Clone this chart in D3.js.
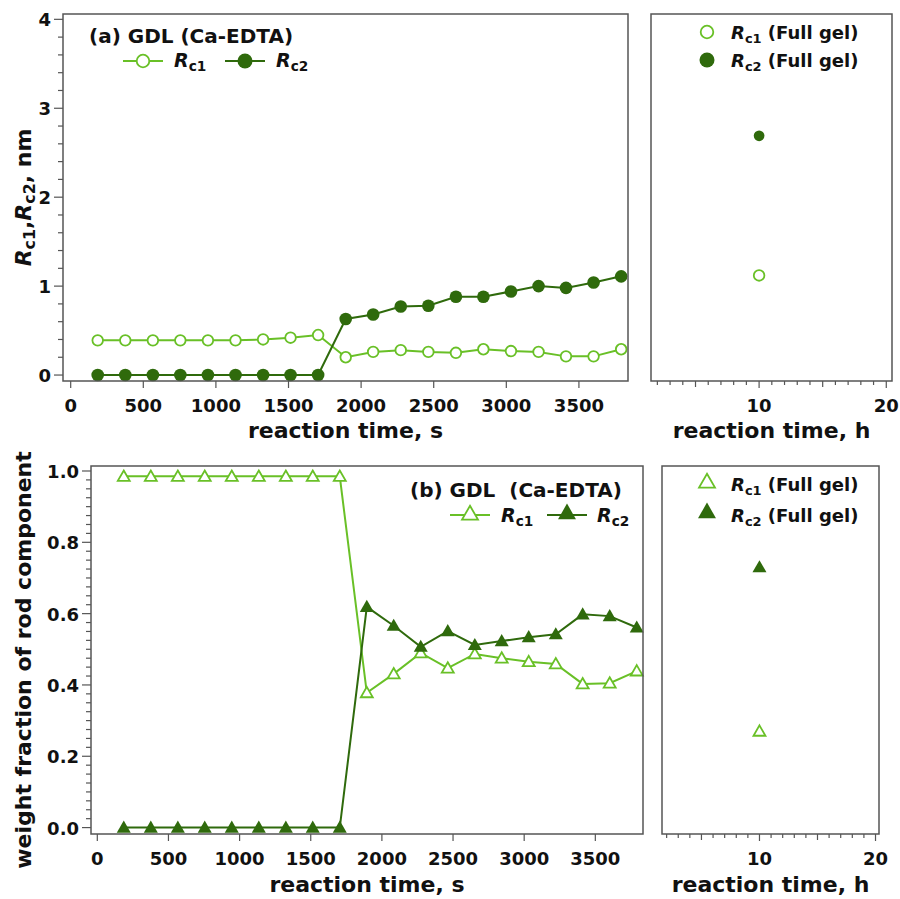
<!DOCTYPE html>
<html>
<head>
<meta charset="utf-8">
<script src="https://cdn.jsdelivr.net/npm/d3@7"></script>
<style>
  body { margin: 0; background: #fff; }
  svg text { font-family: "DejaVu Sans", sans-serif; font-weight: bold; fill: #111; }
</style>
</head>
<body>
<div id="chart"></div>
<script>
"use strict";

// reaction times (s) of the kinetic runs
const timeS = [186, 376, 566, 755, 945, 1135, 1325, 1514, 1704, 1894, 2083, 2273, 2463, 2653, 2842, 3032, 3222, 3411, 3601, 3791];

// (a) rod radii, nm
const rc1Radius = [0.39, 0.39, 0.39, 0.39, 0.39, 0.39, 0.40, 0.42, 0.45, 0.20, 0.26, 0.28, 0.26, 0.25, 0.29, 0.27, 0.26, 0.21, 0.21, 0.29];
const rc2Radius = [0, 0, 0, 0, 0, 0, 0, 0, 0, 0.63, 0.68, 0.77, 0.78, 0.88, 0.88, 0.94, 1.00, 0.98, 1.04, 1.11];

// (b) weight fraction of rod component
const rc1Fraction = [0.985, 0.985, 0.985, 0.985, 0.985, 0.985, 0.985, 0.985, 0.985, 0.378, 0.431, 0.490, 0.447, 0.487, 0.475, 0.465, 0.459, 0.403, 0.405, 0.439];
const rc2Fraction = [0, 0, 0, 0, 0, 0, 0, 0, 0, 0.619, 0.566, 0.507, 0.551, 0.512, 0.523, 0.534, 0.542, 0.598, 0.593, 0.561];

// full gel (h)
const fullGelTimeH = [10];
const fullGelRc1Radius = [1.12];
const fullGelRc2Radius = [2.69];
const fullGelRc1Fraction = [0.27];
const fullGelRc2Fraction = [0.73];

const xTicksS = [0, 500, 1000, 1500, 2000, 2500, 3000, 3500];
const yTicksRadius = [0, 1, 2, 3, 4];
const yTicksFraction = [0, 0.2, 0.4, 0.6, 0.8, 1.0];
const xTicksH = [10, 20];

const lightGreen = "#69c027";
const darkGreen = "#2f6a0c";
const frameColor = "#555";

const svg = d3.select("#chart").append("svg")
    .attr("width", 900)
    .attr("height", 899);

// panel boxes (pixel frames)
const panelA = {left: 63, right: 628, top: 14, bottom: 381};
const panelB = {left: 651, right: 892, top: 14, bottom: 381};
const panelC = {left: 91, right: 643, top: 466, bottom: 834};
const panelD = {left: 662, right: 879, top: 466, bottom: 834};

const xA = d3.scaleLinear().domain([-53, 3838]).range([panelA.left, panelA.right]);
const yA = d3.scaleLinear().domain([-0.067, 4.06]).range([panelA.bottom, panelA.top]);
const xB = d3.scaleLinear().domain([1.5, 20.45]).range([panelB.left, panelB.right]);
const yB = yA.copy();
const xC = d3.scaleLinear().domain([-44.3, 3835]).range([panelC.left, panelC.right]);
const yC = d3.scaleLinear().domain([-0.018, 1.014]).range([panelC.bottom, panelC.top]);
const xD = d3.scaleLinear().domain([1.6, 20.3]).range([panelD.left, panelD.right]);
const yD = yC.copy();

function frame(p) {
    svg.append("rect")
        .attr("x", p.left).attr("y", p.top)
        .attr("width", p.right - p.left).attr("height", p.bottom - p.top)
        .attr("fill", "none")
        .attr("stroke", frameColor)
        .attr("stroke-width", 1.5);
}

function bottomTicks(x, p, ticks, minor, mid, labels) {
    let g = svg.append("g").attr("stroke", frameColor).attr("stroke-width", 1.2);
    minor.forEach(v => {
        let len = ticks.includes(v) ? 7 : (mid.includes(v) ? 6 : 4);
        g.append("line")
            .attr("x1", x(v)).attr("x2", x(v))
            .attr("y1", p.bottom).attr("y2", p.bottom + len);
    });
    labels.forEach(v => {
        svg.append("text")
            .attr("x", x(v)).attr("y", p.bottom + 31)
            .attr("text-anchor", "middle")
            .style("font-size", "18px")
            .text(v);
    });
}

function leftTicks(y, p, ticks, minor, fmt) {
    let g = svg.append("g").attr("stroke", frameColor).attr("stroke-width", 1.2);
    minor.forEach(v => {
        let len = ticks.some(t => Math.abs(t - v) < 1e-6) ? 9 : 5;
        g.append("line")
            .attr("x1", p.left - len).attr("x2", p.left)
            .attr("y1", y(v)).attr("y2", y(v));
    });
    ticks.forEach(v => {
        svg.append("text")
            .attr("x", p.left - 12).attr("y", y(v) + 7)
            .attr("text-anchor", "end")
            .style("font-size", "18px")
            .text(fmt(v));
    });
}

function xTitle(text, cx, baseline) {
    svg.append("text")
        .attr("x", cx).attr("y", baseline)
        .attr("text-anchor", "middle")
        .style("font-size", "22px")
        .text(text);
}

// R with a subscript, e.g. R_c1
function rLabel(sel, sub, tail) {
    sel.append("tspan").style("font-style", "italic").text("R");
    sel.append("tspan").attr("dy", 4).style("font-size", "0.72em").text(sub);
    sel.append("tspan").attr("dy", -4).text(tail || "");
}

function triangle(size) {
    return d3.symbol().type(d3.symbolTriangle).size(size)();
}

function drawSeries(x, y, times, vals, color, marker, filled) {
    let pts = times.map((t, i) => ({t: t, v: vals[i]}));
    let line = d3.line().x(d => x(d.t)).y(d => y(d.v));
    svg.append("path")
        .datum(pts)
        .attr("d", line)
        .attr("fill", "none")
        .attr("stroke", color)
        .attr("stroke-width", 2);
    drawMarkers(x, y, times, vals, color, marker, filled);
}

function drawMarkers(x, y, times, vals, color, marker, filled, scale) {
    let s = scale || 1;
    times.forEach((t, i) => {
        if (marker === "circle") {
            svg.append("circle")
                .attr("cx", x(t)).attr("cy", y(vals[i]))
                .attr("r", (filled ? 6.3 : 5.3) * s)
                .attr("fill", filled ? color : "#fff")
                .attr("stroke", color)
                .attr("stroke-width", filled ? 0 : 1.8);
        } else {
            svg.append("path")
                .attr("d", triangle((filled ? 85 : 62) * s * s))
                .attr("transform", "translate(" + x(t) + "," + (y(vals[i]) + 1) + ")")
                .attr("fill", filled ? color : "#fff")
                .attr("stroke", color)
                .attr("stroke-width", filled ? 0 : 1.8);
        }
    });
}

const majorS = xTicksS;
const minorH = d3.range(2, 21);

// ---------- panel (a) ----------
bottomTicks(xA, panelA, xTicksS, majorS, [], xTicksS);
leftTicks(yA, panelA, yTicksRadius, d3.range(0, 4.01, 0.2).map(v => +v.toFixed(2)), d => d3.format("d")(d));
drawSeries(xA, yA, timeS, rc1Radius, lightGreen, "circle", false);
drawSeries(xA, yA, timeS, rc2Radius, darkGreen, "circle", true);
frame(panelA);
xTitle("reaction time, s", (panelA.left + panelA.right) / 2, 438);

svg.append("text").attr("x", 89).attr("y", 43).style("font-size", "20px").text("(a) GDL (Ca-EDTA)");
svg.append("line").attr("x1", 123).attr("x2", 163).attr("y1", 61).attr("y2", 61)
    .attr("stroke", lightGreen).attr("stroke-width", 2);
svg.append("circle").attr("cx", 143).attr("cy", 61).attr("r", 6.3)
    .attr("fill", "#fff").attr("stroke", lightGreen).attr("stroke-width", 1.8);
rLabel(svg.append("text").attr("x", 174).attr("y", 67).style("font-size", "19px"), "c1");
svg.append("line").attr("x1", 225).attr("x2", 265).attr("y1", 61).attr("y2", 61)
    .attr("stroke", darkGreen).attr("stroke-width", 2);
svg.append("circle").attr("cx", 245).attr("cy", 61).attr("r", 7.5).attr("fill", darkGreen);
rLabel(svg.append("text").attr("x", 276).attr("y", 67).style("font-size", "19px"), "c2");

// y title (a)
let ya = svg.append("text")
    .attr("transform", "translate(31," + ((panelA.top + panelA.bottom) / 2) + ") rotate(-90)")
    .attr("text-anchor", "middle")
    .style("font-size", "22px");
rLabel(ya, "c1", ",");
ya.append("tspan").style("font-style", "italic").text("R");
ya.append("tspan").attr("dy", 4).style("font-size", "0.72em").text("c2");
ya.append("tspan").attr("dy", -4).text(", nm");

// ---------- panel (a) full gel ----------
bottomTicks(xB, panelB, xTicksH, minorH, [5, 15], xTicksH);
drawMarkers(xB, yB, fullGelTimeH, fullGelRc1Radius, lightGreen, "circle", false);
drawMarkers(xB, yB, fullGelTimeH, fullGelRc2Radius, darkGreen, "circle", true, 0.85);
frame(panelB);
xTitle("reaction time, h", (panelB.left + panelB.right) / 2, 438);
svg.append("circle").attr("cx", 707).attr("cy", 32).attr("r", 6.3)
    .attr("fill", "#fff").attr("stroke", lightGreen).attr("stroke-width", 1.8);
rLabel(svg.append("text").attr("x", 731).attr("y", 39).style("font-size", "18px"), "c1", " (Full gel)");
svg.append("circle").attr("cx", 707).attr("cy", 60).attr("r", 7.5).attr("fill", darkGreen);
rLabel(svg.append("text").attr("x", 731).attr("y", 67).style("font-size", "18px"), "c2", " (Full gel)");

// ---------- panel (b) ----------
bottomTicks(xC, panelC, xTicksS, majorS, [], xTicksS);
leftTicks(yC, panelC, yTicksFraction, d3.range(0, 1.001, 0.025).map(v => +v.toFixed(3)), d => d3.format(".1f")(d));
drawSeries(xC, yC, timeS, rc1Fraction, lightGreen, "triangle", false);
drawSeries(xC, yC, timeS, rc2Fraction, darkGreen, "triangle", true);
frame(panelC);
xTitle("reaction time, s", (panelC.left + panelC.right) / 2, 892);

svg.append("text").attr("x", 410).attr("y", 497).style("font-size", "20px")
    .attr("xml:space", "preserve").text("(b) GDL  (Ca-EDTA)");
svg.append("line").attr("x1", 450).attr("x2", 490).attr("y1", 515).attr("y2", 515)
    .attr("stroke", lightGreen).attr("stroke-width", 2);
svg.append("path").attr("d", triangle(110)).attr("transform", "translate(470,515)")
    .attr("fill", "#fff").attr("stroke", lightGreen).attr("stroke-width", 1.8);
rLabel(svg.append("text").attr("x", 501).attr("y", 522).style("font-size", "19px"), "c1");
svg.append("line").attr("x1", 547).attr("x2", 587).attr("y1", 515).attr("y2", 515)
    .attr("stroke", darkGreen).attr("stroke-width", 2);
svg.append("path").attr("d", triangle(140)).attr("transform", "translate(567,514)")
    .attr("fill", darkGreen);
rLabel(svg.append("text").attr("x", 597).attr("y", 522).style("font-size", "19px"), "c2");

svg.append("text")
    .attr("transform", "translate(31," + ((panelC.top + panelC.bottom) / 2 + 10) + ") rotate(-90)")
    .attr("text-anchor", "middle")
    .style("font-size", "22px")
    .text("weight fraction of rod component");

// ---------- panel (b) full gel ----------
bottomTicks(xD, panelD, xTicksH, minorH, [5, 15], xTicksH);
drawMarkers(xD, yD, fullGelTimeH, fullGelRc1Fraction, lightGreen, "triangle", false);
drawMarkers(xD, yD, fullGelTimeH, fullGelRc2Fraction, darkGreen, "triangle", true);
frame(panelD);
xTitle("reaction time, h", (panelD.left + panelD.right) / 2, 892);
svg.append("path").attr("d", triangle(110)).attr("transform", "translate(707,483)")
    .attr("fill", "#fff").attr("stroke", lightGreen).attr("stroke-width", 1.8);
rLabel(svg.append("text").attr("x", 731).attr("y", 491).style("font-size", "18px"), "c1", " (Full gel)");
svg.append("path").attr("d", triangle(140)).attr("transform", "translate(707,513)")
    .attr("fill", darkGreen);
rLabel(svg.append("text").attr("x", 731).attr("y", 522).style("font-size", "18px"), "c2", " (Full gel)");
</script>
</body>
</html>
